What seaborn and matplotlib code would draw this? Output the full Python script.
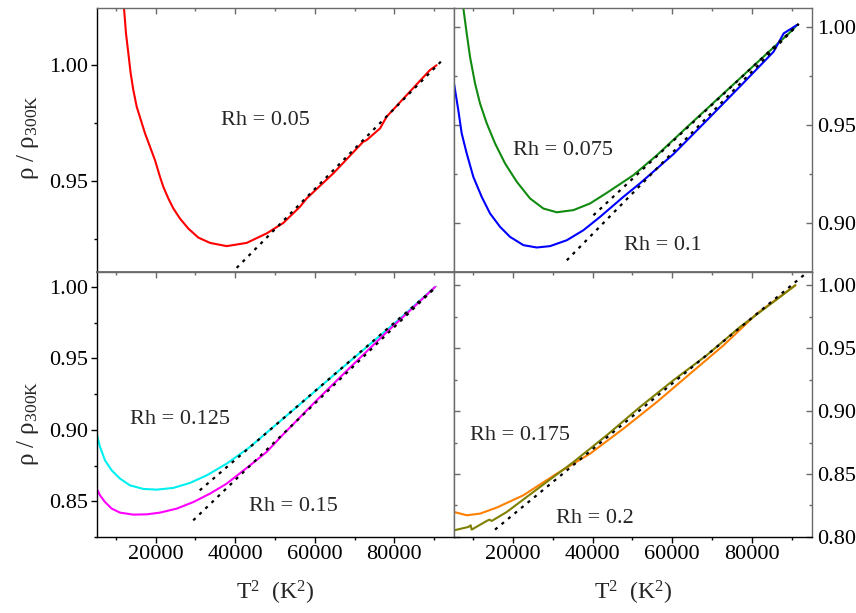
import numpy as np
import pandas as pd
import matplotlib
matplotlib.use("Agg")
import matplotlib.pyplot as plt
from matplotlib.ticker import MultipleLocator, FormatStrFormatter
import seaborn as sns

# ---- resistivity curves, rho / rho(300 K) versus T^2 ----
rh005_x = [12060, 12560, 13150, 13740, 14400, 15250, 17340, 18600, 19850, 21110, 21940,
           23200, 24450, 26130, 28220, 30730, 33670, 37870, 42900, 47920, 52100,
           56290, 57970, 64660, 72200, 73060, 76400, 78080, 88950, 90630]
rh005_y = [1.0246, 1.0137, 1.0051, 0.9964, 0.9892, 0.9820, 0.9705, 0.9647, 0.9589, 0.9517, 0.9474,
           0.9424, 0.9381, 0.9337, 0.9294, 0.9255, 0.9232, 0.9218, 0.9232, 0.9273, 0.9318,
           0.9388, 0.9424, 0.9532, 0.9669, 0.9676, 0.9726, 0.9777, 0.9978, 0.9999]

rh0075_x = [7300, 7540, 8390, 9220, 10480, 11730, 13420, 15500, 18020, 20960, 24300, 27640,
            31010, 35180, 39380, 43580, 47750, 50260, 56140, 64510, 72880, 81260, 89640, 91330]
rh0075_y = [1.012, 1.0095, 0.9966, 0.9847, 0.9712, 0.9610, 0.9509, 0.9407, 0.9305, 0.9212, 0.9127,
            0.9076, 0.9057, 0.9068, 0.9102, 0.9156, 0.9212, 0.9246, 0.9347, 0.9505, 0.9661,
            0.9817, 0.9973, 1.0009]

rh01_x = [5200, 6280, 7130, 8390, 10050, 12160, 14250, 16760, 19270, 22620, 25980, 29330,
          33520, 37700, 41890, 47750, 51950, 60310, 68710, 77080, 85440, 87960, 91330]
rh01_y = [0.9712, 0.9576, 0.9458, 0.9356, 0.9237, 0.9135, 0.9051, 0.8983, 0.8932, 0.8890, 0.8878,
          0.8885, 0.8915, 0.8966, 0.9034, 0.9136, 0.9205, 0.9353, 0.9525, 0.9698, 0.9873,
          0.9966, 1.0009]

rh0125_x = [5200, 6030, 7290, 8970, 11060, 13570, 16910, 20280, 24450, 28650, 32840, 37870,
            43730, 47920, 56290, 64660, 73060, 81430, 90220]
rh0125_y = [0.8973, 0.8880, 0.8786, 0.8716, 0.8658, 0.8611, 0.8586, 0.8581, 0.8593, 0.8628, 0.8681,
            0.8763, 0.8880, 0.8980, 0.9179, 0.9380, 0.9580, 0.9779, 1.0000]

rh015_x = [5200, 6030, 7290, 8970, 11060, 14400, 17760, 21110, 25300, 29480, 33670, 37870,
           43730, 47920, 52100, 60490, 68870, 77240, 85620, 90220]
rh015_y = [0.8588, 0.8541, 0.8494, 0.8448, 0.8420, 0.8406, 0.8408, 0.8420, 0.8448, 0.8494, 0.8553,
           0.8623, 0.8751, 0.8845, 0.8969, 0.9207, 0.9436, 0.9662, 0.9879, 1.0000]

rh0175_x = [5200, 8390, 11730, 15930, 22620, 31010, 39380, 47750, 56140, 64510, 72880, 81260, 90900]
rh0175_y = [0.8198, 0.8172, 0.8185, 0.8233, 0.8331, 0.8503, 0.8662, 0.8861, 0.9072, 0.9298, 0.9523,
            0.9775, 1.0000]

rh02_x = [5200, 8800, 9380, 9640, 13420, 14080, 14670, 18440, 26810, 35180, 43550, 51920,
          60280, 68650, 77020, 85390, 90900]
rh02_y = [0.8052, 0.8079, 0.8092, 0.8058, 0.8127, 0.8137, 0.8127, 0.8198, 0.8397, 0.8595, 0.8808,
          0.9033, 0.9245, 0.9444, 0.9669, 0.9867, 1.0000]

# ---- linear T^2 fits (end points) ----
fit005_x, fit005_y = [40380, 92310], [0.9124, 1.0025]
fit0075_x, fit0075_y = [40210, 91730], [0.9042, 1.0014]
fit01_x, fit01_y = [33520, 91730], [0.8813, 1.0014]
fit0125_x, fit0125_y = [31100, 90650], [0.8576, 1.0005]
fit015_x, fit015_y = [29460, 90650], [0.8366, 1.0005]
fit02_x, fit02_y = [15500, 92990], [0.8058, 1.0080]

labels_text = ["Rh = 0.05", "Rh = 0.075", "Rh = 0.1", "Rh = 0.125", "Rh = 0.15", "Rh = 0.175", "Rh = 0.2"]
labels_x = [47580, 32550, 57660, 26020, 54680, 21680, 40510]
labels_y = [0.9762, 0.9373, 0.8890, 0.9071, 0.8460, 0.8808, 0.8146]

sns.set_theme(style="ticks")
plt.rcParams["font.family"] = ["Liberation Serif", "DejaVu Serif"]
plt.rcParams["mathtext.fontset"] = "custom"
plt.rcParams["mathtext.rm"] = "Liberation Serif"
plt.rcParams["mathtext.it"] = "Liberation Serif:italic"

fig = plt.figure(figsize=(8.56, 6.13), dpi=100)
L, M, R = 96.7 / 856, 454 / 856, 811.7 / 856
T, MID, B = 1 - 8 / 613, 1 - 272.3 / 613, 1 - 536.9 / 613

ax_tl = fig.add_axes([L, MID, M - L, T - MID])
ax_tr = fig.add_axes([M, MID, R - M, T - MID])
ax_bl = fig.add_axes([L, B, M - L, MID - B])
ax_br = fig.add_axes([M, B, R - M, MID - B])

GREY = "#6a6a6a"
TICK_FS = 16
XLIM = (5200, 95000)
fit_style = dict(color="black", linewidth=1.6, linestyle=(0, (1.4, 2.4)))


def curve(ax, xs, ys, color):
    sns.lineplot(x=xs, y=ys, ax=ax, color=color, linewidth=1.5, sort=False, estimator=None)


def fit(ax, xs, ys):
    sns.lineplot(x=xs, y=ys, ax=ax, sort=False, estimator=None, **fit_style)


curve(ax_tl, rh005_x, rh005_y, "#ff0000")
fit(ax_tl, fit005_x, fit005_y)

curve(ax_tr, rh0075_x, rh0075_y, "#118a11")
curve(ax_tr, rh01_x, rh01_y, "#0000ff")
fit(ax_tr, fit0075_x, fit0075_y)
fit(ax_tr, fit01_x, fit01_y)

curve(ax_bl, rh0125_x, rh0125_y, "#00f0f0")
curve(ax_bl, rh015_x, rh015_y, "#ff00ff")
fit(ax_bl, fit0125_x, fit0125_y)
fit(ax_bl, fit015_x, fit015_y)

curve(ax_br, rh0175_x, rh0175_y, "#ff8000")
curve(ax_br, rh02_x, rh02_y, "#808000")
fit(ax_br, fit02_x, fit02_y)

label_axes = [ax_tl, ax_tr, ax_tr, ax_bl, ax_bl, ax_br, ax_br]
for ax, txt, lx, ly in zip(label_axes, labels_text, labels_x, labels_y):
    ax.text(lx, ly, txt, ha="center", va="center", fontsize=TICK_FS)

ax_tl.set_ylim(0.9105, 1.0246)
ax_tr.set_ylim(0.8752, 1.0095)
ax_bl.set_ylim(0.825, 1.0103)
ax_br.set_ylim(0.80, 1.0103)

for ax in (ax_tl, ax_tr, ax_bl, ax_br):
    ax.set_xlim(*XLIM)
    ax.xaxis.set_major_locator(MultipleLocator(20000))
    ax.xaxis.set_minor_locator(MultipleLocator(10000))
    ax.yaxis.set_major_locator(MultipleLocator(0.05))
    ax.yaxis.set_minor_locator(MultipleLocator(0.025))
    ax.yaxis.set_major_formatter(FormatStrFormatter("%.2f"))
    ax.set_xlabel("")
    ax.set_ylabel("")
    for s in ax.spines.values():
        s.set_color(GREY)
        s.set_linewidth(1.0)
    ax.set_facecolor("white")

# left-hand panels: outward black ticks on the left
for ax in (ax_tl, ax_bl):
    ax.spines["left"].set_color("black")
    ax.yaxis.set_ticks_position("left")
    ax.tick_params(axis="y", which="both", direction="out", colors="black",
                   labelsize=TICK_FS, pad=2)
    ax.tick_params(axis="y", which="major", length=4, width=1)
    ax.tick_params(axis="y", which="minor", length=2.5, width=1)

# right-hand panels: inward grey ticks on both sides, labels at right
for ax in (ax_tr, ax_br):
    ax.yaxis.set_ticks_position("both")
    ax.tick_params(axis="y", which="both", direction="in", color=GREY,
                   labelcolor="black", labelleft=False, labelright=True,
                   labelsize=TICK_FS, pad=4)
    ax.tick_params(axis="y", which="major", length=4, width=1)
    ax.tick_params(axis="y", which="minor", length=2.5, width=1)

# upper panels: only inward ticks along the top edge
for ax in (ax_tl, ax_tr):
    ax.xaxis.set_ticks_position("top")
    ax.tick_params(axis="x", which="both", direction="in", color=GREY,
                   labeltop=False, labelbottom=False)
    ax.tick_params(axis="x", which="major", length=4, width=1)
    ax.tick_params(axis="x", which="minor", length=2.5, width=1)

# lower panels: outward labelled ticks at the bottom, inward ticks on top
for ax in (ax_bl, ax_br):
    ax.spines["bottom"].set_color("black")
    ax.xaxis.set_ticks_position("bottom")
    ax.tick_params(axis="x", which="both", direction="out", colors="black",
                   labelsize=TICK_FS, pad=2)
    ax.tick_params(axis="x", which="major", length=4, width=1)
    ax.tick_params(axis="x", which="minor", length=2.5, width=1)
    top = ax.secondary_xaxis("top")
    top.xaxis.set_major_locator(MultipleLocator(20000))
    top.xaxis.set_minor_locator(MultipleLocator(10000))
    top.spines["top"].set_color(GREY)
    top.tick_params(axis="x", which="both", direction="in", color=GREY, labeltop=False)
    top.tick_params(axis="x", which="major", length=4, width=1)
    top.tick_params(axis="x", which="minor", length=2.5, width=1)

ylab = "ρ / ρ$_{\\mathrm{300K}}$"
fig.text(28 / 856, 1 - 137 / 613, ylab, rotation=90, ha="center", va="center", fontsize=18)
fig.text(28 / 856, 1 - 423 / 613, ylab, rotation=90, ha="center", va="center", fontsize=18)
xlab = "T$^{2}$  (K$^{2}$)"
fig.text(275 / 856, 1 - 593 / 613, xlab, ha="center", va="center", fontsize=17)
fig.text(633 / 856, 1 - 593 / 613, xlab, ha="center", va="center", fontsize=17)

fig.savefig("out.png", dpi=100, facecolor="white")
